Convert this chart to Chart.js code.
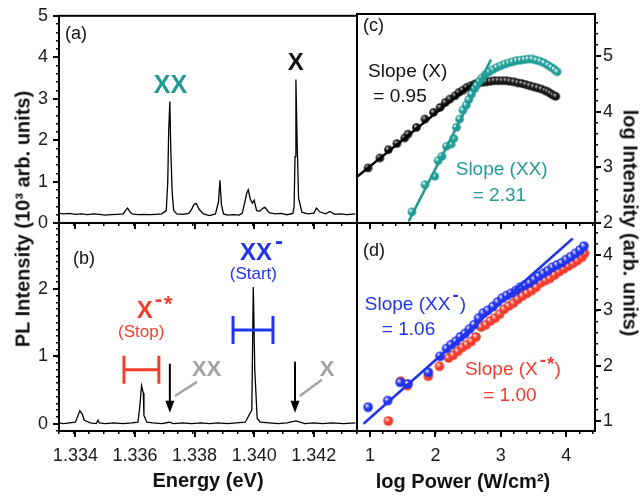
<!DOCTYPE html>
<html>
<head>
<meta charset="utf-8">
<script src="https://cdn.jsdelivr.net/npm/chart.js@4.4.1/dist/chart.umd.min.js"></script>
<style>
  body { margin: 0; background: #fff; }
  #wrap { position: relative; width: 642px; height: 497px; overflow: hidden; font-family: "Liberation Sans", Arial, sans-serif; }
  #wrap canvas { position: absolute; left: 0; top: 0; }
  .ttl { position: absolute; font-weight: bold; font-size: 20px; white-space: nowrap; color: #111; }
</style>
</head>
<body>
<div id="wrap">
  <canvas id="pa" width="642" height="497"></canvas>
  <canvas id="pb" width="642" height="497"></canvas>
  <canvas id="pc" width="642" height="497"></canvas>
  <canvas id="pd" width="642" height="497"></canvas>
  <div class="ttl" style="left:23px;top:219px;transform:translate(-50%,-50%) rotate(-90deg)">PL Intensity (10³ arb. units)</div>
  <div class="ttl" style="left:630px;top:223px;transform:translate(-50%,-50%) rotate(90deg)">log Intensity (arb. units)</div>
  <div class="ttl" style="left:208px;top:480px;transform:translate(-50%,-50%)">Energy (eV)</div>
  <div class="ttl" style="left:463px;top:481px;transform:translate(-50%,-50%)">log Power (W/cm²)</div>
</div>
<script>
// (a) PL spectrum, energy (eV) vs intensity (10^3 arb. units)
const energyA = [1.33345, 1.3336, 1.3338, 1.3340, 1.3342, 1.3344, 1.3346, 1.3348, 1.3350, 1.3352, 1.3354, 1.3356,
  1.33568, 1.33575, 1.33583, 1.3359, 1.3361, 1.3363, 1.3365, 1.3367, 1.3369, 1.33705, 1.3371, 1.33713, 1.33717,
  1.3372, 1.33725, 1.3373, 1.3374, 1.3376, 1.3378, 1.3379, 1.33798, 1.33806, 1.33815, 1.3383, 1.3385, 1.3387,
  1.3388, 1.33885, 1.3389, 1.33897, 1.3391, 1.3393, 1.3395, 1.3396, 1.3397, 1.33975, 1.3398, 1.33987, 1.33994,
  1.34, 1.34008, 1.34018, 1.3403, 1.34036, 1.3405, 1.3407, 1.3409, 1.3411, 1.3413, 1.34134, 1.34137, 1.3414,
  1.34144, 1.34149, 1.3416, 1.3418, 1.3420, 1.34209, 1.3422, 1.3424, 1.34254, 1.3427, 1.3429, 1.3431, 1.3434];
const intensityA = [0.24, 0.22, 0.23, 0.21, 0.22, 0.2, 0.22, 0.21, 0.19, 0.2, 0.21, 0.22,
  0.3, 0.36, 0.27, 0.22, 0.2, 0.21, 0.2, 0.21, 0.22, 0.3, 1.0, 2.2, 2.93,
  1.8, 0.7, 0.3, 0.22, 0.21, 0.23, 0.33, 0.45, 0.47, 0.33, 0.22, 0.18, 0.22,
  0.5, 1.03, 0.45, 0.22, 0.19, 0.2, 0.19, 0.24, 0.55, 0.72, 0.8, 0.58, 0.48,
  0.55, 0.3, 0.28, 0.36, 0.38, 0.25, 0.22, 0.23, 0.2, 0.23, 0.4, 1.6, 3.46,
  2.0, 0.6, 0.26, 0.22, 0.24, 0.36, 0.27, 0.22, 0.28, 0.21, 0.22, 0.2, 0.22];

// (b) PL spectrum, second excitation
const energyB = [1.33345, 1.3336, 1.3338, 1.3340, 1.33407, 1.33415, 1.33423, 1.3343, 1.3345, 1.3347, 1.33476, 1.3348,
  1.3350, 1.3353, 1.3356, 1.3359, 1.3361, 1.33616, 1.33622, 1.33628, 1.3363, 1.3364, 1.3366, 1.3369, 1.33715,
  1.3373, 1.3376, 1.3379, 1.3382, 1.3385, 1.3388, 1.3391, 1.3394, 1.3397, 1.33992, 1.33997, 1.34002, 1.3401,
  1.3402, 1.3405, 1.3408, 1.3411, 1.3414, 1.3417, 1.3420, 1.3423, 1.3426, 1.3430, 1.3434];
const intensityB = [0.01, 0.0, 0.01, 0.02, 0.1, 0.19, 0.14, 0.05, 0.01, 0.0, 0.05, 0.01,
  0.0, 0.01, 0.0, 0.01, 0.02, 0.25, 0.565, 0.45, 0.12, 0.02, 0.01, 0.0, 0.02,
  0.0, 0.01, 0.0, 0.01, 0.0, 0.01, 0.0, 0.01, 0.02, 0.2, 2.03, 0.8, 0.08,
  0.02, 0.01, 0.0, 0.01, 0.04, 0.0, 0.01, 0.0, 0.01, 0.0, 0.01];

// (c) log power vs log intensity for X and XX
const powerX = [0.97, 1.15, 1.28, 1.41, 1.53, 1.58, 1.71, 1.84, 1.97, 2.07, 2.15, 2.22, 2.3, 2.36, 2.42, 2.48, 2.54, 2.6,
  2.66, 2.72, 2.78, 2.84, 2.9, 2.96, 3.02, 3.08, 3.14, 3.2, 3.26, 3.32, 3.38, 3.44, 3.5, 3.56, 3.62, 3.68, 3.72, 3.76, 3.8, 3.84];
const logIntX = [2.99, 3.17, 3.32, 3.43, 3.53, 3.6, 3.72, 3.87, 3.99, 4.08, 4.17, 4.23, 4.29, 4.35, 4.39, 4.44, 4.47, 4.5,
  4.52, 4.53, 4.54, 4.55, 4.56, 4.56, 4.56, 4.56, 4.55, 4.54, 4.52, 4.51, 4.49, 4.47, 4.45, 4.43, 4.41, 4.38, 4.36, 4.33, 4.3, 4.28];
const powerXX = [1.64, 1.84, 1.99, 2.04, 2.1, 2.17, 2.24, 2.28, 2.32, 2.37, 2.42, 2.47, 2.51, 2.55, 2.6, 2.63, 2.67, 2.71,
  2.76, 2.82, 2.88, 2.94, 3.0, 3.06, 3.12, 3.18, 3.24, 3.3, 3.36, 3.42, 3.48, 3.54, 3.6, 3.66, 3.72, 3.77, 3.82, 3.86];
const logIntXX = [2.2, 2.69, 2.84, 3.12, 3.2, 3.38, 3.42, 3.52, 3.72, 3.87, 4.03, 4.12, 4.22, 4.32, 4.42, 4.48, 4.55, 4.61,
  4.67, 4.72, 4.76, 4.8, 4.83, 4.86, 4.88, 4.9, 4.92, 4.93, 4.94, 4.95, 4.95, 4.93, 4.91, 4.88, 4.84, 4.8, 4.76, 4.72];
const fitXPower = [0.8, 2.63];
const fitXLogInt = [2.83, 4.57];
const fitXXPower = [1.59, 2.85];
const fitXXLogInt = [2.03, 4.94];

// (d) log power vs log intensity for XX- and X-*
const powerXXm = [0.97, 1.27, 1.46, 1.58, 1.89, 2.07, 2.17, 2.24, 2.31, 2.38, 2.45, 2.52, 2.59, 2.66, 2.73, 2.8, 2.88, 2.95,
  3.02, 3.09, 3.16, 3.23, 3.3, 3.37, 3.44, 3.51, 3.58, 3.65, 3.72, 3.79, 3.86, 3.93, 4.0, 4.07, 4.14, 4.21, 4.27];
const logIntXXm = [1.25, 1.37, 1.7, 1.67, 1.88, 2.17, 2.31, 2.38, 2.44, 2.52, 2.58, 2.66, 2.74, 2.86, 2.95, 3.0, 3.07, 3.15,
  3.22, 3.27, 3.31, 3.36, 3.42, 3.46, 3.5, 3.56, 3.62, 3.67, 3.72, 3.78, 3.82, 3.86, 3.92, 3.97, 4.03, 4.09, 4.16];
const powerXm = [1.28, 1.47, 1.57, 1.89, 2.06, 2.2, 2.27, 2.34, 2.41, 2.48, 2.55, 2.62, 2.7, 2.77, 2.84, 2.91, 2.98, 3.05,
  3.12, 3.19, 3.26, 3.33, 3.4, 3.47, 3.54, 3.61, 3.68, 3.75, 3.82, 3.89, 3.96, 4.03, 4.1, 4.17, 4.24, 4.28];
const logIntXm = [1.0, 1.72, 1.64, 1.81, 1.99, 2.14, 2.19, 2.26, 2.33, 2.38, 2.44, 2.52, 2.7, 2.74, 2.81, 2.86, 2.93, 3.02,
  3.08, 3.13, 3.2, 3.26, 3.31, 3.36, 3.42, 3.5, 3.54, 3.58, 3.64, 3.7, 3.75, 3.8, 3.85, 3.9, 3.96, 4.03];
const fitXXmPower = [0.9, 4.1];
const fitXXmLogInt = [0.95, 4.3];

// tick labels
const energyTicks = [1.334, 1.336, 1.338, 1.340, 1.342];
const powerTicks = [1, 2, 3, 4];
const ticksA = [0, 1, 2, 3, 4, 5];
const ticksB = [0, 1, 2];
const ticksC = [2, 3, 4, 5];
const ticksD = [1, 2, 3, 4];

const FONT = '"Liberation Sans", Arial, sans-serif';
const TEAL = '#1f9a94', BLUE = '#2233ee', RED = '#f23c2c', GRAY = '#a3a3a3';

const pts = (xs, ys) => xs.map((x, i) => ({ x, y: ys[i] }));

// shaded ball used as point style
function ball(color, hi, r) {
  const c = document.createElement('canvas');
  const s = Math.ceil(2 * r + 2);
  c.width = c.height = s;
  const g = c.getContext('2d');
  const grad = g.createRadialGradient(s / 2 - r * 0.35, s / 2 - r * 0.4, r * 0.1, s / 2, s / 2, r);
  grad.addColorStop(0, hi);
  grad.addColorStop(0.5, color);
  grad.addColorStop(1, color);
  g.fillStyle = grad;
  g.beginPath();
  g.arc(s / 2, s / 2, r, 0, Math.PI * 2);
  g.fill();
  return c;
}

// axis boxes get a fixed size (0 for unlabelled ones), padding places the plot area
function axis(pos, min, max, o) {
  const size = o.size || 0;
  return {
    type: 'linear', position: pos, min, max,
    afterFit: s => { if (s.isHorizontal()) s.height = size; else s.width = size; },
    afterBuildTicks: o.values ? s => { s.ticks = o.values.map(v => ({ value: v })); } : undefined,
    border: { display: false },
    grid: { drawOnChartArea: false, drawTicks: true, tickLength: o.len, tickWidth: o.w, tickColor: '#000', color: '#000', lineWidth: o.w },
    ticks: {
      stepSize: o.step, includeBounds: false, autoSkip: false, maxRotation: 0, padding: o.pad || 0,
      color: '#1a1a1a', font: { family: FONT, size: 18 },
      callback: o.fmt || (() => '')
    }
  };
}

const frame = {
  id: 'frame',
  afterDraw(chart) {
    const { left, top, width, height } = chart.chartArea;
    const ctx = chart.ctx;
    ctx.save();
    ctx.strokeStyle = '#000';
    ctx.lineWidth = 2;
    ctx.strokeRect(left, top, width, height);
    ctx.restore();
  }
};

// text and marker annotations placed in data coordinates
function notes(items) {
  return {
    id: 'notes',
    afterDraw(chart) {
      const ctx = chart.ctx, sx = chart.scales.x, sy = chart.scales.y;
      const px = v => sx.getPixelForValue(v), py = v => sy.getPixelForValue(v);
      ctx.save();
      items.forEach(it => {
        ctx.strokeStyle = ctx.fillStyle = it.color || '#111';
        if (it.type === 'text') {
          let x = px(it.x);
          const y = py(it.y);
          ctx.textBaseline = 'middle';
          ctx.textAlign = 'left';
          it.parts.forEach(p => {
            ctx.font = p.font + ' ' + FONT;
            ctx.fillStyle = p.color || it.color || '#111';
            ctx.fillText(p.t, x + (p.dx || 0), y + (p.dy || 0));
            x += ctx.measureText(p.t).width + (p.dx || 0);
          });
        } else if (it.type === 'bar') {
          const x0 = px(it.x0), x1 = px(it.x1), y = py(it.y), h = it.cap;
          ctx.lineWidth = 3;
          ctx.beginPath();
          ctx.moveTo(x0, y); ctx.lineTo(x1, y);
          ctx.moveTo(x0, y - h); ctx.lineTo(x0, y + h);
          ctx.moveTo(x1, y - h); ctx.lineTo(x1, y + h);
          ctx.stroke();
        } else if (it.type === 'arrow') {
          const x = px(it.x), y0 = py(it.y0), y1 = py(it.y1);
          ctx.lineWidth = 2;
          ctx.beginPath(); ctx.moveTo(x, y0); ctx.lineTo(x, y1 - 8); ctx.stroke();
          ctx.beginPath(); ctx.moveTo(x, y1); ctx.lineTo(x - 4.5, y1 - 12); ctx.lineTo(x + 4.5, y1 - 12); ctx.closePath(); ctx.fill();
        } else if (it.type === 'line') {
          ctx.lineWidth = 2.5;
          ctx.beginPath(); ctx.moveTo(px(it.x0), py(it.y0)); ctx.lineTo(px(it.x1), py(it.y1)); ctx.stroke();
        }
      });
      ctx.restore();
    }
  };
}

function panel(id, padding, scales, datasets, items) {
  return new Chart(document.getElementById(id), {
    type: 'scatter',
    data: { datasets },
    options: {
      responsive: false, animation: false, devicePixelRatio: 1,
      layout: { padding },
      plugins: { legend: { display: false }, tooltip: { enabled: false } },
      scales
    },
    plugins: [frame, notes(items)]
  });
}

const spectrum = (xs, ys) => ({
  data: pts(xs, ys), showLine: true, borderColor: '#000', borderWidth: 1.3, pointRadius: 0, tension: 0
});
const fit = (xs, ys, color, order) => ({
  data: pts(xs, ys), showLine: true, borderColor: color, borderWidth: 2.5, pointRadius: 0, order
});
const dots = (xs, ys, img, order) => ({
  data: pts(xs, ys), pointStyle: img, pointRadius: 5, showLine: false, order
});

const E_MIN = 1.33345, E_MAX = 1.34345;
const P_MIN = 0.8, P_MAX = 4.44;
const eFmt = v => v.toFixed(3);
const iFmt = v => String(v);

// (a)
panel('pa', { left: 0, top: 14, right: 285, bottom: 274 }, {
  xm: axis('bottom', E_MIN, E_MAX, { step: 0.0005, len: 3, w: 1.5 }),
  x: axis('bottom', E_MIN, E_MAX, { values: energyTicks, len: 6, w: 2 }),
  ym: axis('left', 0, 5, { step: 0.2, len: 3, w: 1.5 }),
  y: axis('left', 0, 5, { values: ticksA, len: 6, w: 2, pad: 5, fmt: iFmt, size: 59 })
}, [spectrum(energyA, intensityA)], [
  { type: 'text', x: 1.33365, y: 4.55, parts: [{ t: '(a)', font: '18px' }] },
  { type: 'text', x: 1.33663, y: 3.3, color: TEAL, parts: [{ t: 'XX', font: 'bold 25px' }] },
  { type: 'text', x: 1.34113, y: 3.85, parts: [{ t: 'X', font: 'bold 24px' }] }
]);

// (b)
panel('pb', { left: 0, top: 223, right: 285, bottom: 0 }, {
  xm: axis('bottom', E_MIN, E_MAX, { step: 0.0005, len: 3, w: 1.5 }),
  x: axis('bottom', E_MIN, E_MAX, { values: energyTicks, len: 6, w: 2, pad: 8, fmt: eFmt, size: 66 }),
  ym: axis('left', -0.11, 2.98, { step: 0.1, len: 3, w: 1.5 }),
  y: axis('left', -0.11, 2.98, { values: ticksB, len: 6, w: 2, pad: 5, fmt: iFmt, size: 59 })
}, [spectrum(energyB, intensityB)], [
  { type: 'text', x: 1.33392, y: 2.45, parts: [{ t: '(b)', font: '18px' }] },
  { type: 'text', x: 1.33952, y: 2.53, color: BLUE, parts: [{ t: 'XX', font: 'bold 24px' }, { t: '-', font: 'bold 24px', dy: -11, dx: 3 }] },
  { type: 'text', x: 1.33918, y: 2.22, color: BLUE, parts: [{ t: '(Start)', font: '17px' }] },
  { type: 'text', x: 1.33606, y: 1.67, color: RED, parts: [{ t: 'X', font: 'bold 24px' }, { t: '-', font: 'bold 22px', dy: -11, dx: 2 }, { t: '*', font: 'bold 22px', dy: -6, dx: 2 }] },
  { type: 'text', x: 1.33543, y: 1.35, color: RED, parts: [{ t: '(Stop)', font: '17px' }] },
  { type: 'bar', x0: 1.33563, x1: 1.3368, y: 0.8, cap: 14, color: RED },
  { type: 'bar', x0: 1.33929, x1: 1.34063, y: 1.39, cap: 14, color: BLUE },
  { type: 'arrow', x: 1.33717, y0: 0.89, y1: 0.16, color: '#000' },
  { type: 'arrow', x: 1.34137, y0: 0.92, y1: 0.16, color: '#000' },
  { type: 'line', x0: 1.33734, y0: 0.41, x1: 1.33808, y1: 0.62, color: GRAY },
  { type: 'line', x0: 1.34153, y0: 0.41, x1: 1.34227, y1: 0.65, color: GRAY },
  { type: 'text', x: 1.33791, y: 0.8, color: GRAY, parts: [{ t: 'XX', font: 'bold 22px' }] },
  { type: 'text', x: 1.3422, y: 0.8, color: GRAY, parts: [{ t: 'X', font: 'bold 22px' }] }
]);

// (c)
const ballBlack = ball('#151515', '#b0b0b0', 4.3);
const ballTeal = ball(TEAL, '#e8fffd', 4.3);
panel('pc', { left: 357, top: 14, right: 0, bottom: 274 }, {
  xm: axis('bottom', P_MIN, P_MAX, { step: 0.2, len: 3, w: 1.5 }),
  x: axis('bottom', P_MIN, P_MAX, { values: powerTicks, len: 6, w: 2 }),
  ym: axis('right', 2, 5.76, { step: 0.2, len: 3, w: 1.5 }),
  y: axis('right', 2, 5.76, { values: ticksC, len: 6, w: 2, pad: 2, fmt: iFmt, size: 47 })
}, [
  fit(fitXXPower, fitXXLogInt, TEAL, 0),
  dots(powerXX, logIntXX, ballTeal, 1),
  fit(fitXPower, fitXLogInt, '#000', 2),
  dots(powerX, logIntX, ballBlack, 3)
], [
  { type: 'text', x: 0.89, y: 5.55, parts: [{ t: '(c)', font: '18px' }] },
  { type: 'text', x: 0.97, y: 4.72, parts: [{ t: 'Slope (X)', font: '19px' }] },
  { type: 'text', x: 1.05, y: 4.28, parts: [{ t: '= 0.95', font: '19px' }] },
  { type: 'text', x: 2.31, y: 2.96, color: TEAL, parts: [{ t: 'Slope (XX)', font: '19px' }] },
  { type: 'text', x: 2.57, y: 2.49, color: TEAL, parts: [{ t: '= 2.31', font: '19px' }] }
]);

// (d)
const ballBlue = ball(BLUE, '#dfe2ff', 4.8);
const ballRed = ball(RED, '#ffe0dc', 4.8);
panel('pd', { left: 357, top: 223, right: 0, bottom: 0 }, {
  xm: axis('bottom', P_MIN, P_MAX, { step: 0.2, len: 3, w: 1.5 }),
  x: axis('bottom', P_MIN, P_MAX, { values: powerTicks, len: 6, w: 2, pad: 8, fmt: iFmt, size: 66 }),
  ym: axis('right', 0.82, 4.58, { step: 0.2, len: 3, w: 1.5 }),
  y: axis('right', 0.82, 4.58, { values: ticksD, len: 6, w: 2, pad: 2, fmt: iFmt, size: 47 })
}, [
  fit(fitXXmPower, fitXXmLogInt, BLUE, 0),
  dots(powerXXm, logIntXXm, ballBlue, 1),
  dots(powerXm, logIntXm, ballRed, 2)
], [
  { type: 'text', x: 0.89, y: 4.08, parts: [{ t: '(d)', font: '18px' }] },
  { type: 'text', x: 0.92, y: 3.1, color: BLUE, parts: [{ t: 'Slope (XX', font: '19px' }, { t: '-', font: 'bold 19px', dy: -9, dx: 2 }, { t: ')', font: '19px', dx: 1 }] },
  { type: 'text', x: 1.18, y: 2.65, color: BLUE, parts: [{ t: '= 1.06', font: '19px' }] },
  { type: 'text', x: 2.45, y: 1.92, color: RED, parts: [{ t: 'Slope (X', font: '19px' }, { t: '-', font: 'bold 19px', dy: -9, dx: 2 }, { t: '*', font: 'bold 19px', dy: -5, dx: 1 }, { t: ')', font: '19px' }] },
  { type: 'text', x: 2.73, y: 1.46, color: RED, parts: [{ t: '= 1.00', font: '19px' }] }
]);
</script>
</body>
</html>
